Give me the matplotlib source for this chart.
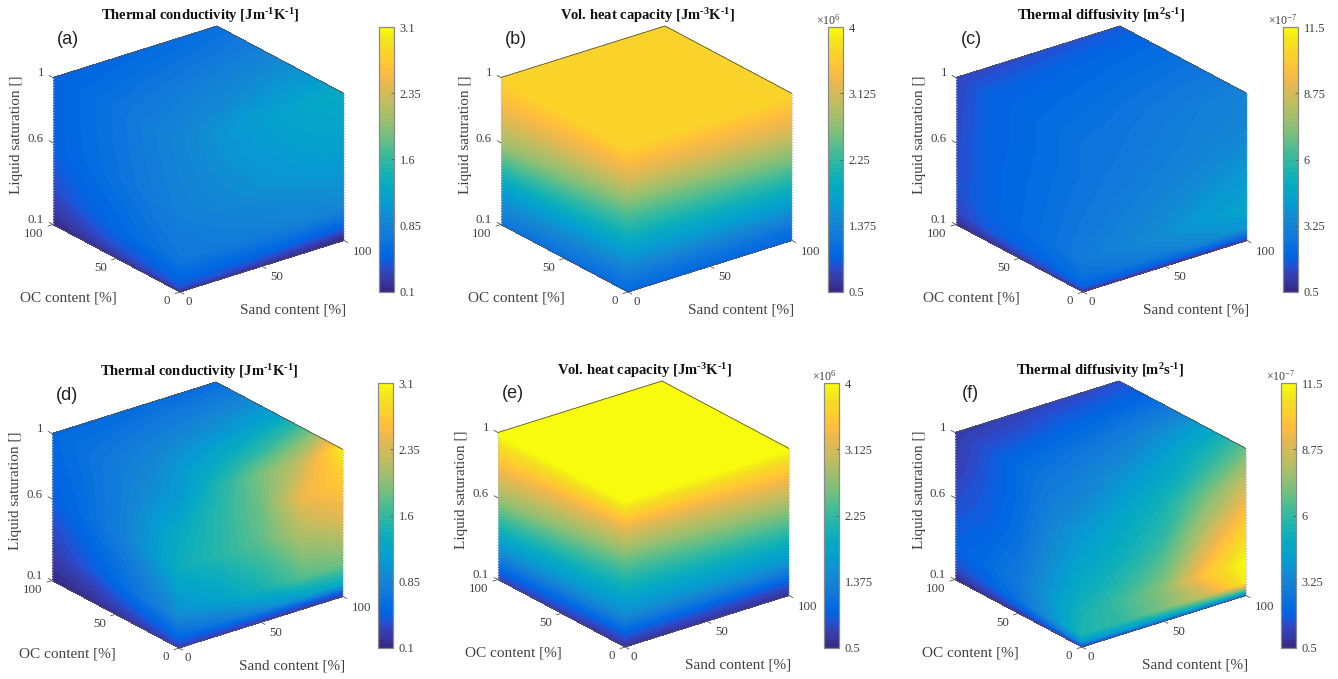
import numpy as np
import matplotlib
matplotlib.use("Agg")
import matplotlib.pyplot as plt
from matplotlib.cm import ScalarMappable
from matplotlib.colors import ListedColormap, Normalize

plt.rcParams['mathtext.fontset'] = 'custom'
plt.rcParams['mathtext.rm'] = 'Liberation Serif'
plt.rcParams['mathtext.bf'] = 'Liberation Serif:bold'
plt.rcParams['mathtext.default'] = 'regular'

PARULA = [
 (0.2081,0.1663,0.5292),(0.2116,0.1898,0.5777),(0.2123,0.2138,0.6270),(0.2081,0.2386,0.6771),
 (0.1959,0.2645,0.7279),(0.1707,0.2919,0.7792),(0.1253,0.3242,0.8303),(0.0591,0.3598,0.8683),
 (0.0117,0.3875,0.8820),(0.0060,0.4086,0.8828),(0.0165,0.4266,0.8786),(0.0329,0.4430,0.8720),
 (0.0498,0.4586,0.8641),(0.0629,0.4737,0.8554),(0.0723,0.4887,0.8467),(0.0779,0.5040,0.8384),
 (0.0793,0.5200,0.8312),(0.0749,0.5375,0.8263),(0.0641,0.5570,0.8240),(0.0488,0.5772,0.8228),
 (0.0343,0.5966,0.8199),(0.0265,0.6137,0.8135),(0.0239,0.6287,0.8038),(0.0231,0.6418,0.7913),
 (0.0228,0.6535,0.7768),(0.0267,0.6642,0.7607),(0.0384,0.6743,0.7436),(0.0590,0.6838,0.7254),
 (0.0843,0.6928,0.7062),(0.1133,0.7015,0.6859),(0.1453,0.7098,0.6646),(0.1801,0.7177,0.6424),
 (0.2178,0.7250,0.6193),(0.2586,0.7317,0.5954),(0.3022,0.7376,0.5712),(0.3482,0.7424,0.5473),
 (0.3953,0.7459,0.5244),(0.4420,0.7481,0.5033),(0.4871,0.7491,0.4840),(0.5300,0.7491,0.4661),
 (0.5709,0.7485,0.4494),(0.6099,0.7473,0.4337),(0.6473,0.7456,0.4188),(0.6834,0.7435,0.4044),
 (0.7184,0.7411,0.3905),(0.7525,0.7384,0.3768),(0.7858,0.7356,0.3633),(0.8185,0.7327,0.3498),
 (0.8507,0.7299,0.3360),(0.8824,0.7274,0.3217),(0.9139,0.7258,0.3063),(0.9450,0.7261,0.2886),
 (0.9739,0.7314,0.2666),(0.9938,0.7455,0.2403),(0.9990,0.7653,0.2164),(0.9955,0.7861,0.1967),
 (0.9880,0.8066,0.1794),(0.9789,0.8271,0.1633),(0.9697,0.8481,0.1475),(0.9626,0.8705,0.1309),
 (0.9589,0.8949,0.1132),(0.9598,0.9218,0.0948),(0.9661,0.9514,0.0755),(0.9763,0.9831,0.0538)]

# Sampling of the faces
SAT = [0.1, 0.13, 0.18, 0.3, 0.6, 0.8, 1.0]
PCT = [0, 25, 50, 75, 100]

# left face: rows = saturation, columns = OC content
# right face: rows = saturation, columns = sand content
# top face: rows = OC content, columns = sand content
A_LEFT = [[.13,.13,.13,.13,.10],[.40,.34,.28,.22,.16],[.52,.46,.40,.31,.22],[.70,.62,.54,.46,.34],
          [.82,.74,.65,.57,.49],[.85,.76,.67,.58,.49],[.88,.78,.68,.58,.49]]
A_RIGHT = [[.13,.13,.13,.13,.10],[.40,.37,.31,.25,.19],[.52,.52,.52,.49,.46],[.70,.74,.78,.84,.88],
           [.82,.91,1.00,1.07,1.12],[.85,.97,1.08,1.16,1.21],[.88,1.02,1.14,1.23,1.30]]
A_TOP = [[.88,1.02,1.14,1.23,1.30],[.78,.86,.94,1.02,1.08],[.68,.74,.80,.86,.91],
         [.58,.62,.66,.70,.75],[.49,.52,.55,.58,.61]]

B_LEFT = [[.99,1.03,1.08,1.12,1.17],[1.10,1.13,1.17,1.20,1.24],[1.20,1.24,1.29,1.33,1.38],
          [1.55,1.58,1.60,1.63,1.66],[2.46,2.55,2.63,2.72,2.81],[3.16,3.20,3.23,3.27,3.30],
          [3.66,3.66,3.66,3.66,3.66]]
B_RIGHT = [[.99,.98,.97,.96,.95],[1.10,1.09,1.08,1.07,1.06],[1.20,1.19,1.18,1.17,1.16],
           [1.55,1.56,1.57,1.58,1.59],[2.46,2.50,2.53,2.57,2.60],[3.16,3.18,3.20,3.21,3.23],
           [3.66,3.66,3.66,3.66,3.66]]
B_TOP = [[3.66,3.66,3.66,3.66,3.66],[3.66,3.66,3.67,3.67,3.67],[3.66,3.67,3.67,3.67,3.67],
         [3.66,3.67,3.67,3.67,3.67],[3.66,3.67,3.67,3.67,3.67]]

C_LEFT = [[.72,.70,.68,.65,.61],[1.82,1.60,1.38,1.16,.94],[2.37,2.15,1.95,1.75,1.30],
          [2.92,2.50,2.20,1.95,1.50],[2.70,2.40,2.15,1.95,1.45],[2.59,2.32,2.10,1.92,1.40],
          [2.59,2.32,2.10,1.90,1.30]]
C_RIGHT = [[.72,.70,.68,.66,.72],[1.82,1.90,2.00,2.05,2.15],[2.37,2.70,3.00,3.50,3.90],
           [2.92,3.30,3.70,4.20,4.57],[2.70,2.95,3.20,3.50,3.80],[2.59,2.80,3.00,3.20,3.36],
           [2.59,2.70,2.90,3.10,3.25]]
C_TOP = [[2.59,2.70,2.90,3.10,3.25],[2.32,2.45,2.60,2.72,2.82],[2.10,2.20,2.30,2.40,2.48],
         [1.90,1.95,2.05,2.12,2.20],[1.30,1.42,1.50,1.60,1.70]]

D_LEFT = [[.25,.19,.13,.12,.10],[.40,.31,.25,.19,.15],[.58,.46,.34,.25,.19],[.94,.73,.55,.40,.28],
          [1.36,1.03,.76,.58,.46],[1.30,1.00,.76,.61,.52],[1.09,.91,.76,.64,.55]]
D_RIGHT = [[.25,.25,.22,.22,.19],[.40,.40,.43,.43,.46],[.58,.70,.90,1.14,1.30],[.94,1.15,1.42,1.75,1.84],
           [1.36,1.54,1.78,2.20,2.44],[1.30,1.54,1.84,2.50,2.71],[1.09,1.51,1.90,2.26,3.01]]
D_TOP = [[1.09,1.51,1.90,2.26,3.01],[.91,1.12,1.36,1.60,1.90],[.76,.88,1.00,1.09,1.21],
         [.64,.70,.76,.82,.88],[.55,.55,.58,.58,.58]]

E_LEFT = [[.57,.60,.64,.67,.71],[.71,.74,.78,.81,.85],[.92,.96,.99,1.03,1.06],[1.48,1.51,1.53,1.56,1.59],
          [2.39,2.49,2.58,2.68,2.78],[3.13,3.20,3.27,3.34,3.41],[4.0,4.0,4.0,4.0,4.0]]
E_RIGHT = [[.57,.57,.57,.57,.57],[.71,.70,.70,.69,.68],[.92,.91,.90,.89,.89],[1.48,1.50,1.52,1.53,1.55],
           [2.39,2.44,2.50,2.55,2.60],[3.13,3.17,3.21,3.26,3.30],[4.0,4.0,4.0,4.0,4.0]]
E_TOP = [[4.0,4.0,4.0,4.0,4.0],[4.0,4.0,4.0,4.0,4.0],[4.0,4.0,4.0,4.0,4.0],
         [4.0,4.0,4.0,4.0,4.0],[4.0,4.0,4.0,4.0,4.0]]

F_LEFT = [[.94,.83,.72,.61,.61],[3.80,2.37,1.60,1.27,.94],[5.56,3.80,2.48,1.82,1.49],
          [5.45,4.02,2.81,2.26,1.93],[4.57,3.47,2.37,1.82,1.49],[4.02,3.14,2.26,1.71,1.16],
          [3.36,2.81,2.26,1.60,1.05]]
F_RIGHT = [[.94,1.38,1.60,1.93,2.15],[3.80,4.35,4.90,5.45,6.00],[5.56,6.00,7.10,8.50,11.10],
           [5.45,6.22,7.32,9.90,11.50],[4.57,5.12,6.00,7.98,9.85],[4.02,4.68,5.45,6.88,8.42],
           [3.36,4.02,4.68,5.67,6.77]]
F_TOP = [[3.36,4.02,4.68,5.67,6.77],[2.81,3.14,3.58,4.24,4.90],[2.26,2.48,2.70,3.03,3.36],
         [1.60,1.71,1.93,2.04,2.15],[1.05,1.16,1.27,1.38,1.49]]

TITLE_K = "Thermal conductivity [Jm$^{\\mathbf{\u20101}}$K$^{\\mathbf{\u20101}}$]"
TITLE_C = "Vol. heat capacity [Jm$^{\\mathbf{\u20103}}$K$^{\\mathbf{\u20101}}$]"
TITLE_D = "Thermal diffusivity [m$^{\\mathbf{2}}$s$^{\\mathbf{\u20101}}$]"

TICKS_K = [0.1, 0.85, 1.6, 2.35, 3.1]
LABELS_K = ['0.1', '0.85', '1.6', '2.35', '3.1']
TICKS_C = [0.5, 1.375, 2.25, 3.125, 4]
LABELS_C = ['0.5', '1.375', '2.25', '3.125', '4']
TICKS_D = [0.5, 3.25, 6, 8.75, 11.5]
LABELS_D = ['0.5', '3.25', '6', '8.75', '11.5']

W, H = 1338, 679
SERIF = 'Liberation Serif'
GREY = '#404040'

# letter, faces, title, ticks, labels, exponent, front-corner pixel, colourbar left/top, title shift
PANELS = [
 ('(a)', A_LEFT, A_RIGHT, A_TOP, TITLE_K, TICKS_K, LABELS_K, None, (180, 292), (379, 27), 20),
 ('(b)', B_LEFT, B_RIGHT, B_TOP, TITLE_C, TICKS_C, LABELS_C, '6', (628, 292), (828, 27), 19),
 ('(c)', C_LEFT, C_RIGHT, C_TOP, TITLE_D, TICKS_D, LABELS_D, '-7', (1083, 292), (1283, 27), 18),
 ('(d)', D_LEFT, D_RIGHT, D_TOP, TITLE_K, TICKS_K, LABELS_K, None, (179, 648), (378, 383), 20),
 ('(e)', E_LEFT, E_RIGHT, E_TOP, TITLE_C, TICKS_C, LABELS_C, '6', (625, 647), (824, 383), 19),
 ('(f)', F_LEFT, F_RIGHT, F_TOP, TITLE_D, TICKS_D, LABELS_D, '-7', (1082, 647), (1281, 383), 18),
]

cmap = ListedColormap(PARULA)
cmap.set_over(PARULA[-1])
cmap.set_under(PARULA[0])


def project(sand, oc, sat):
    sand, oc, sat = np.asarray(sand, float), np.asarray(oc, float), np.asarray(sat, float)
    x = sand / 100 * 164 - oc / 100 * 127
    y = sand / 100 * 51.5 + oc / 100 * 67.5 + (sat - 0.1) / 0.9 * 147
    return x, y


def draw_panel(letter, left, right, top, title, ticks, labels, exponent, front, cbar_at, title_dx):
    fx, fy = front
    ax = fig.add_axes([(fx - 140) / W, 1 - (fy + 20) / H, 320 / W, 300 / H])
    ax.set_xlim(-140, 180)
    ax.set_ylim(-20, 280)
    ax.axis('off')

    vmin, vmax = ticks[0], ticks[-1]
    norm = Normalize(vmin, vmax)
    levels = np.linspace(vmin, vmax, 65)
    kw = dict(levels=levels, cmap=cmap, norm=norm, extend='both')

    pct, sat = np.array(PCT, float), np.array(SAT, float)
    P, S = np.meshgrid(pct, sat)
    X, Y = project(np.zeros_like(P), P, S)
    ax.contourf(X, Y, np.array(left), **kw)
    X, Y = project(P, np.zeros_like(P), S)
    ax.contourf(X, Y, np.array(right), **kw)
    Sa, O = np.meshgrid(pct, pct)
    X, Y = project(Sa, O, np.ones_like(Sa))
    ax.contourf(X, Y, np.array(top), **kw)

    # box edges
    edge = dict(color='#555555', lw=0.6, clip_on=False, solid_capstyle='round')
    for a, b in [((0, 100, 1), (100, 100, 1)), ((100, 100, 1), (100, 0, 1)),
                 ((0, 100, .1), (0, 0, .1)), ((0, 0, .1), (100, 0, .1))]:
        xa, ya = project(*a)
        xb, yb = project(*b)
        ax.plot([xa, xb], [ya, yb], **edge)
    for a, b in [((0, 100, .1), (0, 100, 1)), ((100, 0, .1), (100, 0, 1))]:
        xa, ya = project(*a)
        xb, yb = project(*b)
        ax.plot([xa, xb], [ya, yb], color='#c4c4c4', lw=1.0, ls=(0, (1, 1)), clip_on=False)

    # tick marks
    tick = dict(color='#555555', lw=0.6, clip_on=False)
    for s in (0.1, 0.6, 1.0):
        xa, ya = project(0, 100, s)
        xb, yb = project(0, 103, s)
        ax.plot([xa, xb], [ya, yb], **tick)
    for v in (0, 50, 100):
        xa, ya = project(v, 0, .1)
        xb, yb = project(v, -3, .1)
        ax.plot([xa, xb], [ya, yb], **tick)
        xa, ya = project(0, v, .1)
        xb, yb = project(-3, v, .1)
        ax.plot([xa, xb], [ya, yb], **tick)

    # tick labels (offsets in pixels from the front corner)
    tl = dict(family=SERIF, fontsize=9.3, color=GREY, ha='center', va='center', clip_on=False)
    for txt, dx, dy in [('1', -139, 219), ('0.6', -144, 153), ('0.1', -144, 72),
                        ('100', -146, 58), ('50', -79, 24), ('0', -13, -9),
                        ('0', 9, -10), ('50', 97, 15), ('100', 183, 40)]:
        ax.text(dx, dy, txt, **tl)
    lab = dict(family=SERIF, fontsize=11, color=GREY, ha='center', va='center', clip_on=False)
    ax.text(-112, -6, 'OC content [%]', **lab)
    ax.text(113, -18, 'Sand content [%]', **lab)
    ax.text(-163, 157, 'Liquid saturation []', rotation=90, **lab)
    ax.text(title_dx, 276.5, title, family=SERIF, fontsize=10.5, fontweight='bold',
            color='#111111', ha='center', va='center', clip_on=False)
    ax.text(-112, 253, letter, family='Liberation Sans', fontsize=13, color='#222222',
            ha='center', va='center', clip_on=False)

    # colour bar
    cx, cy = cbar_at
    cax = fig.add_axes([cx / W, 1 - (cy + 265) / H, 15 / W, 265 / H])
    cb = fig.colorbar(ScalarMappable(norm=norm, cmap=cmap), cax=cax, ticks=ticks)
    cb.ax.set_yticklabels(labels, family=SERIF, fontsize=8.9, color=GREY)
    cb.ax.tick_params(direction='in', length=2, width=0.6, color='#555555', pad=4)
    cb.outline.set_edgecolor('#8a8a8a')
    cb.outline.set_linewidth(0.9)
    if exponent is not None:
        cax.text(0.0, 1.027, r'$\times$10$^{%s}$' % exponent, transform=cax.transAxes,
                 family=SERIF, fontsize=8.6, color=GREY, ha='center', va='center')


fig = plt.figure(figsize=(W / 100, H / 100), dpi=100, facecolor='white')
for panel in PANELS:
    draw_panel(*panel)
fig.savefig('out.png', dpi=100, facecolor='white')
